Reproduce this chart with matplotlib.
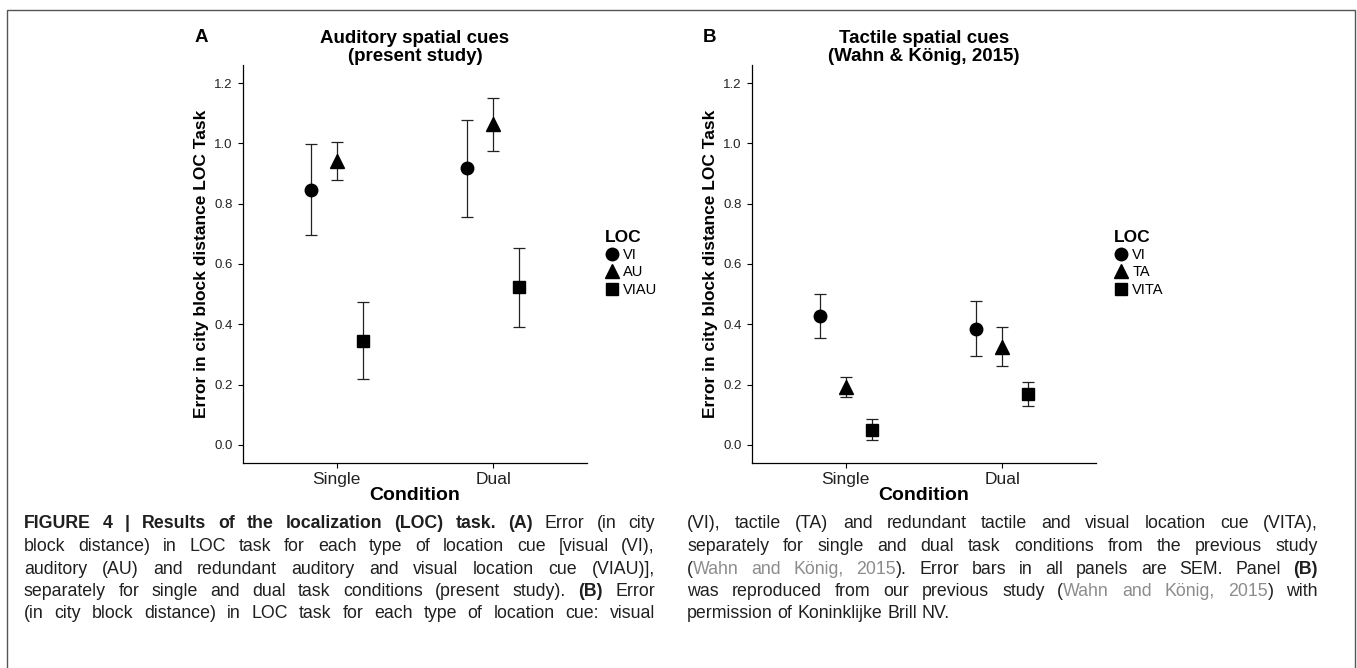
import matplotlib
matplotlib.use('Agg')
import matplotlib.pyplot as plt
from matplotlib.lines import Line2D
from matplotlib.patches import Rectangle

plt.rcParams['font.family'] = ['Liberation Sans', 'DejaVu Sans']

# data (mean +/- SEM)
conditions = ['Single', 'Dual']

loc_a = ['VI', 'AU', 'VIAU']
mean_a_vi = [0.847, 0.917]
sem_a_vi = [0.152, 0.162]
mean_a_au = [0.940, 1.063]
sem_a_au = [0.063, 0.087]
mean_a_viau = [0.346, 0.523]
sem_a_viau = [0.129, 0.131]

loc_b = ['VI', 'TA', 'VITA']
mean_b_vi = [0.427, 0.386]
sem_b_vi = [0.072, 0.091]
mean_b_ta = [0.192, 0.326]
sem_b_ta = [0.032, 0.064]
mean_b_vita = [0.051, 0.168]
sem_b_vita = [0.034, 0.039]

y_ticks = [0.0, 0.2, 0.4, 0.6, 0.8, 1.0, 1.2]

W, H = 1357, 668
MARKERS = ['o', '^', 's']
MSIZE = [9, 10.5, 8.5]
DODGE = [-1 / 6, 0, 1 / 6]


def fx(px):
    return px / W


def fy(py):
    return 1 - py / H


fig = plt.figure(figsize=(W / 100, H / 100), dpi=100)

# outer frame of the page
fig.patches.append(Rectangle((fx(7), fy(700)), fx(1355) - fx(7), fy(10) - fy(700),
                             transform=fig.transFigure, fill=False,
                             edgecolor='#555555', linewidth=1.0))


def draw_panel(left, letter, title, labels, means, sems):
    ax = fig.add_axes([fx(left), fy(463), (587 - 243) / W, (463 - 65) / H])
    x = list(range(1, len(conditions) + 1))
    for i in range(len(labels)):
        xs = [v + DODGE[i] for v in x]
        ax.errorbar(xs, means[i], yerr=sems[i], fmt='none', ecolor='#222222',
                    elinewidth=0.9, capsize=4.6, capthick=0.9)
        ax.plot(xs, means[i], linestyle='none', marker=MARKERS[i],
                markersize=MSIZE[i], color='black')

    ax.set_xlim(0.4, 2.6)
    ax.set_ylim(-0.06, 1.26)
    ax.set_xticks(x)
    ax.set_xticklabels(conditions)
    ax.set_yticks(y_ticks)
    ax.set_yticklabels([f'{v:.1f}' for v in y_ticks])
    for s in ['top', 'right']:
        ax.spines[s].set_visible(False)
    for s in ['left', 'bottom']:
        ax.spines[s].set_linewidth(0.9)
    ax.tick_params(axis='y', length=3.8, width=0.8, pad=3.5, labelsize=9.5, labelcolor='#222222')
    ax.tick_params(axis='x', length=3.8, width=0.8, pad=2.5, labelsize=12.5, labelcolor='#222222')

    ax.set_ylabel('Error in city block distance LOC Task', fontsize=12.5, fontweight='bold')
    ax.yaxis.set_label_coords((209 - 243) / 344, 0.5)
    ax.set_xlabel('Condition', fontsize=14, fontweight='bold', labelpad=0.5)
    ax.set_title(title, fontsize=13.5, fontweight='bold', pad=3, linespacing=1.1)

    fig.text(fx(left - 42), fy(38), letter, fontsize=13.5, fontweight='bold',
             ha='center', va='center')

    handles = [Line2D([], [], linestyle='none', marker=MARKERS[i],
                      markersize=MSIZE[i], color='black') for i in range(len(labels))]
    fig.legend(handles, labels, title='LOC', loc='upper left',
               bbox_to_anchor=(fx(left + 362), fy(230)), frameon=False,
               fontsize=10.5, title_fontproperties={'weight': 'bold', 'size': 12.5},
               alignment='left', borderpad=0, borderaxespad=0, handlelength=1.0,
               handletextpad=0.25, labelspacing=0.22)
    return ax


draw_panel(243, 'A', 'Auditory spatial cues\n(present study)', loc_a,
           [mean_a_vi, mean_a_au, mean_a_viau], [sem_a_vi, sem_a_au, sem_a_viau])
draw_panel(752, 'B', 'Tactile spatial cues\n(Wahn & König, 2015)', loc_b,
           [mean_b_vi, mean_b_ta, mean_b_vita], [sem_b_vi, sem_b_ta, sem_b_vita])

# caption, two justified columns
CAP_SIZE = 12.8
STYLES = {
    'n': {'color': '#1f1f1f'},
    'b': {'color': '#1f1f1f', 'fontweight': 'bold'},
    'g': {'color': '#8c8c8c'},
}

left_lines = [
    [('FIGURE 4 | Results of the localization (LOC) task. (A)', 'b'), (' Error (in city', 'n')],
    [('block distance) in LOC task for each type of location cue [visual (VI),', 'n')],
    [('auditory (AU) and redundant auditory and visual location cue (VIAU)],', 'n')],
    [('separately for single and dual task conditions (present study). ', 'n'), ('(B)', 'b'), (' Error', 'n')],
    [('(in city block distance) in LOC task for each type of location cue: visual', 'n')],
]
right_lines = [
    [('(VI), tactile (TA) and redundant tactile and visual location cue (VITA),', 'n')],
    [('separately for single and dual task conditions from the previous study', 'n')],
    [('(', 'n'), ('Wahn and König, 2015', 'g'), ('). Error bars in all panels are SEM. Panel ', 'n'), ('(B)', 'b')],
    [('was reproduced from our previous study (', 'n'), ('Wahn and König, 2015', 'g'), (') with', 'n')],
    [('permission of Koninklijke Brill NV.', 'n')],
]
line_y = [523, 545.5, 568, 590, 612]


def to_words(segments):
    words = [[]]
    for text, st in segments:
        parts = text.split(' ')
        for i, p in enumerate(parts):
            if i > 0:
                words.append([])
            if p:
                words[-1].append((p, st))
    return [w for w in words if w]


renderer = fig.canvas.get_renderer()


def draw_line(y, x0, x1, segments, justify=True):
    words = to_words(segments)
    texts, widths = [], []
    for word in words:
        wt = [fig.text(0, fy(y + 5.5), s, fontsize=CAP_SIZE, ha='left', va='baseline', **STYLES[st])
              for s, st in word]
        texts.append(wt)
        widths.append([t.get_window_extent(renderer).width for t in wt])
    total = sum(sum(w) for w in widths)
    space = CAP_SIZE * 100 / 72 * 0.278
    if justify and len(words) > 1:
        gap = max((x1 - x0 - total) / (len(words) - 1), space * 0.8)
    else:
        gap = space
    x = x0
    for wt, ws in zip(texts, widths):
        for t, w in zip(wt, ws):
            t.set_x(fx(x))
            x += w
        x += gap


for i, seg in enumerate(left_lines):
    draw_line(line_y[i], 24, 655, seg)
for i, seg in enumerate(right_lines):
    draw_line(line_y[i], 687, 1318, seg, justify=(i < len(right_lines) - 1))

fig.savefig('out.png', dpi=100)
